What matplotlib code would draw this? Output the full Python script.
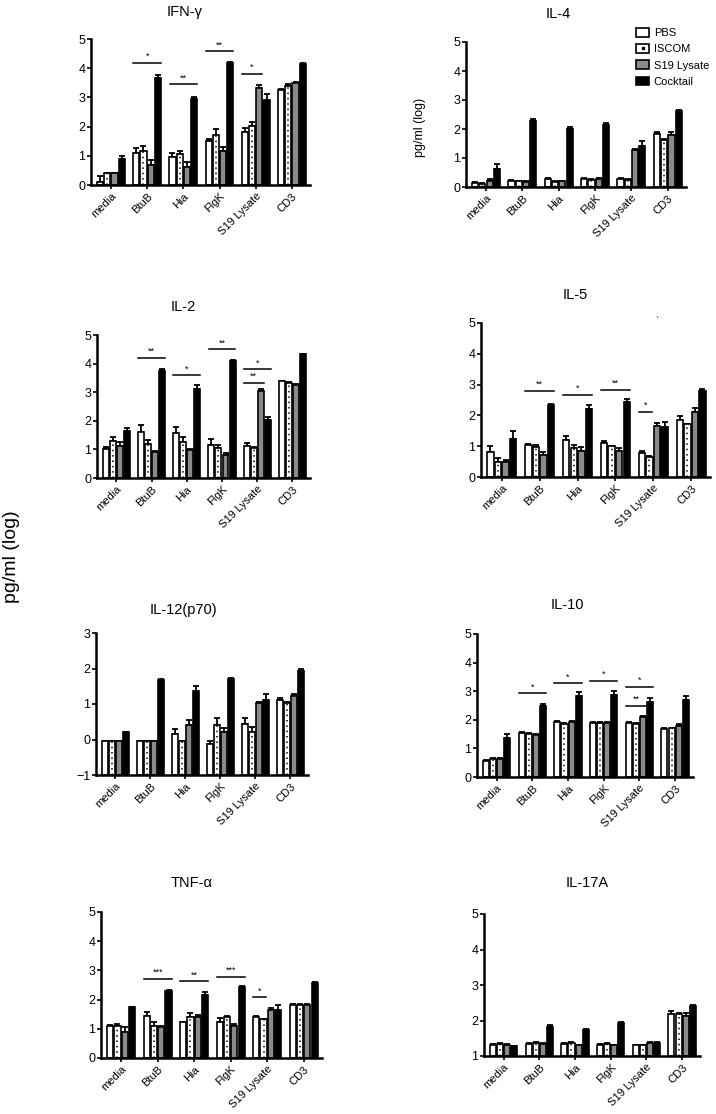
import matplotlib.pyplot as plt
import numpy as np
from matplotlib.patches import Patch
from matplotlib.lines import Line2D

plt.rcParams['font.family'] = ['Liberation Sans', 'DejaVu Sans']

categories = ['media', 'BtuB', 'Hia', 'FlgK', 'S19 Lysate', 'CD3']
series = ['PBS', 'ISCOM', 'S19 Lysate', 'Cocktail']
colors = ['white', 'white', '#8a8a8a', 'black']

# means (rows = categories, cols = series) and upper SEM
ifng_mean = [[0.1, 0.4, 0.4, 0.88], [1.1, 1.15, 0.7, 3.65], [0.95, 1.07, 0.6, 2.95],
             [1.52, 1.72, 1.15, 4.18], [1.8, 2.02, 3.32, 2.9], [3.26, 3.4, 3.48, 4.15]]
ifng_err = [[0.2, 0, 0, 0.13], [0.17, 0.2, 0.15, 0.1], [0.15, 0.1, 0.2, 0.07],
            [0.06, 0.2, 0.15, 0.04], [0.15, 0.13, 0.1, 0.22], [0.04, 0.07, 0.04, 0.03]]
ifng_sig = [(1, 0, 3, 4.18, '*'), (2, 0, 3, 3.45, '**'), (3, 0, 3, 4.58, '**'), (4, 0, 2, 3.81, '*')]

il4_mean = [[0.15, 0.12, 0.2, 0.62], [0.22, 0.2, 0.17, 2.27], [0.28, 0.18, 0.2, 2.0],
            [0.28, 0.25, 0.27, 2.15], [0.28, 0.25, 1.27, 1.42], [1.82, 1.62, 1.8, 2.62]]
il4_err = [[0.03, 0.03, 0.08, 0.16], [0.03, 0.02, 0.03, 0.06], [0.04, 0.04, 0.02, 0.07],
           [0.02, 0.02, 0.03, 0.05], [0.02, 0.02, 0.03, 0.16], [0.08, 0.05, 0.08, 0.03]]
il4_sig = []

il2_mean = [[1.03, 1.28, 1.13, 1.65], [1.62, 1.18, 0.9, 3.73], [1.57, 1.25, 0.98, 3.12],
            [1.15, 1.05, 0.82, 4.08], [1.12, 1.05, 3.05, 2.03], [3.38, 3.32, 3.25, 4.32]]
il2_err = [[0.04, 0.17, 0.12, 0.1], [0.23, 0.15, 0.03, 0.07], [0.23, 0.18, 0.05, 0.13],
           [0.2, 0.12, 0.04, 0.04], [0.1, 0.05, 0.05, 0.09], [0.02, 0.03, 0.03, 0.03]]
il2_sig = [(1, 0, 3, 4.2, '**'), (2, 0, 3, 3.6, '*'), (3, 0, 3, 4.5, '**'),
           (4, 0, 3, 3.8, '*'), (4, 0, 2, 3.33, '**')]

il5_mean = [[0.8, 0.48, 0.5, 1.22], [1.05, 0.97, 0.72, 2.33], [1.2, 0.95, 0.85, 2.22],
            [1.1, 1.0, 0.85, 2.45], [0.77, 0.65, 1.65, 1.62], [1.85, 1.71, 2.12, 2.8]]
il5_err = [[0.2, 0.14, 0.05, 0.26], [0.03, 0.06, 0.08, 0.04], [0.13, 0.1, 0.12, 0.11],
           [0.08, 0.02, 0.1, 0.07], [0.08, 0.03, 0.1, 0.18], [0.13, 0.02, 0.13, 0.05]]
il5_sig = [(1, 0, 3, 2.79, '**'), (2, 0, 3, 2.66, '*'), (3, 0, 3, 2.83, '**'), (4, 0, 1, 2.12, '*')]

il12_mean = [[-0.03, -0.03, -0.03, 0.2], [-0.03, -0.03, -0.03, 1.68], [0.15, -0.03, 0.42, 1.37],
             [-0.13, 0.4, 0.2, 1.7], [0.45, 0.2, 1.03, 1.1], [1.12, 1.03, 1.22, 1.92]]
il12_err = [[0, 0, 0, 0.02], [0, 0, 0, 0.02], [0.15, 0, 0.13, 0.13],
            [0.08, 0.2, 0.13, 0.03], [0.15, 0.15, 0.02, 0.18], [0.06, 0.04, 0.06, 0.06]]
il12_sig = []

il10_mean = [[0.55, 0.62, 0.62, 1.38], [1.55, 1.5, 1.48, 2.47], [1.92, 1.85, 1.92, 2.83],
             [1.88, 1.88, 1.88, 2.88], [1.88, 1.85, 2.1, 2.62], [1.68, 1.7, 1.8, 2.69]]
il10_err = [[0.05, 0.05, 0.06, 0.14], [0.03, 0.03, 0.04, 0.08], [0.03, 0.03, 0.04, 0.14],
            [0.04, 0.04, 0.05, 0.14], [0.04, 0.05, 0.02, 0.13], [0.03, 0.03, 0.04, 0.14]]
il10_sig = [(1, 0, 3, 2.93, '*'), (2, 0, 3, 3.28, '*'), (3, 0, 3, 3.36, '*'),
            (4, 0, 3, 3.16, '*'), (4, 0, 2, 2.49, '**')]

tnf_mean = [[1.08, 1.08, 0.88, 1.73], [1.43, 1.08, 1.07, 2.3], [1.22, 1.4, 1.4, 2.15],
            [1.22, 1.4, 1.1, 2.42], [1.42, 1.32, 1.65, 1.65], [1.82, 1.82, 1.82, 2.57]]
tnf_err = [[0.05, 0.07, 0.17, 0.03], [0.15, 0.17, 0.03, 0.03], [0.03, 0.15, 0.07, 0.1],
           [0.16, 0.03, 0.08, 0.03], [0.03, 0.03, 0.07, 0.15], [0.03, 0.03, 0.03, 0.03]]
tnf_sig = [(1, 0, 3, 2.72, '***'), (2, 0, 3, 2.62, '**'), (3, 0, 3, 2.79, '***'), (4, 0, 1, 2.08, '*')]

il17_mean = [[1.32, 1.35, 1.32, 1.27], [1.35, 1.37, 1.35, 1.83], [1.35, 1.37, 1.3, 1.72],
             [1.32, 1.35, 1.3, 1.92], [1.3, 1.3, 1.38, 1.37], [2.17, 2.19, 2.12, 2.4]]
il17_err = [[0.02, 0.02, 0.02, 0.02], [0.02, 0.02, 0.02, 0.04], [0.02, 0.02, 0.02, 0.05],
            [0.02, 0.02, 0.02, 0.03], [0.02, 0.02, 0.02, 0.02], [0.11, 0.03, 0.08, 0.03]]
il17_sig = []

W, H = 716, 1114
fig = plt.figure(figsize=(W / 100, H / 100), dpi=100)

# title, data, ylim, axes box in pixels (x0, x1, ytop, ybottom), title position
panels = [
    ('IFN-γ', ifng_mean, ifng_err, ifng_sig, (0, 5), (91, 310, 39, 185), (185, 12)),
    ('IL-4', il4_mean, il4_err, il4_sig, (0, 5), (466, 686, 42, 187), (558, 14)),
    ('IL-2', il2_mean, il2_err, il2_sig, (0, 5), (97, 310, 335, 478), (183, 307)),
    ('IL-5', il5_mean, il5_err, il5_sig, (0, 5), (481, 710, 323, 477), (575, 295)),
    ('IL-12(p70)', il12_mean, il12_err, il12_sig, (-1, 3), (96, 308, 633, 775), (183, 610)),
    ('IL-10', il10_mean, il10_err, il10_sig, (0, 5), (477, 693, 634, 777), (567, 605)),
    ('TNF-α', tnf_mean, tnf_err, tnf_sig, (0, 5), (101, 322, 912, 1058), (192, 883)),
    ('IL-17A', il17_mean, il17_err, il17_sig, (1, 5), (484, 700, 914, 1056), (587, 883)),
]

x = np.arange(len(categories))
offsets = [-0.3, -0.1, 0.1, 0.3]
bw = 0.17

for title, mean, err, sig, ylim, box, tpos in panels:
    x0, x1, yt, yb = box
    ax = fig.add_axes([x0 / W, 1 - yb / H, (x1 - x0) / W, (yb - yt) / H])
    mean = np.array(mean)
    err = np.array(err)
    base = ylim[0]
    for j in range(4):
        xs = x + offsets[j]
        ax.bar(xs, mean[:, j] - base, bottom=base, width=bw, color=colors[j],
               edgecolor='black', linewidth=1.2, zorder=2)
        if j == 1:
            ax.vlines(xs, base, mean[:, j], colors='black', linestyles=(0, (1, 2.5)),
                      linewidth=1.1, zorder=3)
        ax.errorbar(xs, mean[:, j], yerr=[np.zeros(len(x)), err[:, j]], fmt='none',
                    ecolor='black', elinewidth=1.3, capsize=2.2, capthick=1.3, zorder=1)
    for g, a, b, yy, stars in sig:
        xa = g + offsets[a] - 0.08
        xb = g + offsets[b] + 0.08
        ax.plot([xa, xb], [yy, yy], color='black', lw=1.1)
        ax.text((xa + xb) / 2, yy + 0.06, stars, ha='center', va='bottom', fontsize=6.5)
    ax.set_xlim(-0.55, 5.5)
    ax.set_ylim(*ylim)
    ax.set_yticks(np.arange(ylim[0], ylim[1] + 1))
    ax.set_xticks(x)
    ax.set_xticklabels(categories, rotation=45, ha='right', rotation_mode='anchor', fontsize=8)
    ax.tick_params(axis='y', labelsize=9, length=3, width=1.2, pad=1)
    ax.tick_params(axis='x', length=3, width=1.2, pad=1.5)
    for s in ['top', 'right']:
        ax.spines[s].set_visible(False)
    for s in ['left', 'bottom']:
        ax.spines[s].set_linewidth(1.8)
    fig.text(tpos[0] / W, 1 - tpos[1] / H, title, ha='center', va='center', fontsize=10.5)

    if title == 'IL-4':
        handles = [Patch(facecolor='white', edgecolor='black', linewidth=1.2),
                   (Patch(facecolor='white', edgecolor='black', linewidth=1.2),
                    Line2D([], [], marker='s', markersize=1.5, color='black', linestyle='none')),
                   Patch(facecolor=colors[2], edgecolor='black', linewidth=1.2),
                   Patch(facecolor='black', edgecolor='black', linewidth=1.2)]
        ax.legend(handles, series, loc='upper left', bbox_to_anchor=(636 / W, 1 - 28 / H),
                  bbox_transform=fig.transFigure, frameon=False, fontsize=8,
                  borderpad=0, borderaxespad=0, labelspacing=0.55, handlelength=1.2,
                  handleheight=0.8, handletextpad=0.4)

fig.text(420 / W, 1 - 127 / H, 'pg/ml (log)', rotation=90, ha='center', va='center', fontsize=9)
fig.text(12 / W, 1 - 557 / H, 'pg/ml (log)', rotation=90, ha='center', va='center', fontsize=14)
fig.text(657 / W, 1 - 322 / H, '`', ha='center', va='center', fontsize=7)

fig.savefig('out.png', dpi=100)
